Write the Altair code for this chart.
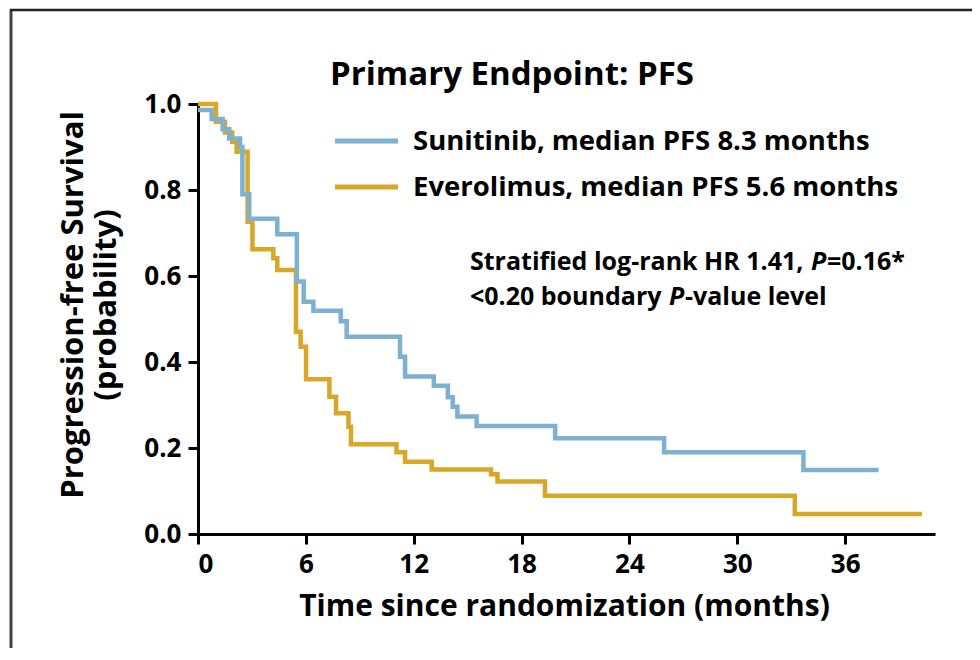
import altair as alt
import pandas as pd

# ---- data ----
sun_time = [0, 0.76, 1.37, 1.74, 2.34, 2.47, 2.85, 4.41, 5.5, 5.88, 6.42, 7.94, 8.27,
            11.24, 11.52, 13.12, 13.9, 14.17, 14.43, 15.5, 19.87, 25.93, 33.68, 37.86]
sun_surv = [0.986, 0.965, 0.941, 0.92, 0.90, 0.79, 0.733, 0.697, 0.587, 0.540, 0.519, 0.495, 0.459,
            0.412, 0.366, 0.345, 0.318, 0.296, 0.273, 0.251, 0.2225, 0.19, 0.149, 0.149]
eve_time = [0, 1.0, 1.5, 1.9, 2.15, 2.76, 3.03, 4.19, 4.41, 5.45, 5.71, 6.01, 7.31, 7.68,
            8.37, 8.51, 11.04, 11.52, 13.0, 16.3, 16.66, 19.3, 33.2, 40.27]
eve_surv = [1.0, 0.959, 0.934, 0.912, 0.889, 0.726, 0.662, 0.641, 0.614, 0.4705, 0.4356, 0.3597, 0.319, 0.2806,
            0.2496, 0.2085, 0.19, 0.168, 0.150, 0.139, 0.122, 0.089, 0.0465, 0.0465]

series_names = ["Sunitinib, median PFS 8.3 months", "Everolimus, median PFS 5.6 months"]
series_colors = ["#7DB0D1", "#D9A727"]
x_ticks = [0, 6, 12, 18, 24, 30, 36]
y_ticks = [0.0, 0.2, 0.4, 0.6, 0.8, 1.0]
title_text = "Primary Endpoint: PFS"
x_title = "Time since randomization (months)"
y_title = ["Progression-free Survival", "(probability)"]

FONT = "Open Sans"

sun_df = pd.DataFrame({"t": sun_time, "s": sun_surv})
eve_df = pd.DataFrame({"t": eve_time, "s": eve_surv})
one = pd.DataFrame({"k": [0]})

xscale = alt.Scale(domain=[0, 41], nice=False, zero=False)
yscale = alt.Scale(domain=[0, 1], nice=False)

xaxis = alt.Axis(values=x_ticks, title=x_title, titleFontSize=30, titlePadding=14,
                 titleFont=FONT, titleFontWeight="bold", titleColor="black", titleX=366)
yaxis = alt.Axis(values=y_ticks, format=".1f", title=None)

eve_line = alt.Chart(eve_df).mark_line(interpolate="step-after", strokeWidth=4.5,
                                       color=series_colors[1], strokeCap="butt").encode(
    x=alt.X("t:Q", scale=xscale, axis=xaxis),
    y=alt.Y("s:Q", scale=yscale, axis=yaxis),
)
sun_line = alt.Chart(sun_df).mark_line(interpolate="step-after", strokeWidth=4.5,
                                       color=series_colors[0], strokeCap="butt").encode(
    x=alt.X("t:Q", scale=xscale),
    y=alt.Y("s:Q", scale=yscale),
)

# frame around the figure
frame_left = alt.Chart(one).mark_rule(color="#444", strokeWidth=3).encode(
    x=alt.value(-187), y=alt.value(-94), y2=alt.value(560))
frame_top = alt.Chart(one).mark_rule(color="#222", strokeWidth=2.5).encode(
    x=alt.value(-188), x2=alt.value(800), y=alt.value(-94))

# legend
def leg_rule(y, color):
    return alt.Chart(one).mark_rule(color=color, strokeWidth=5).encode(
        x=alt.value(137), x2=alt.value(200), y=alt.value(y))

def txt(text, x, y, size, align="left", style="normal", angle=0):
    return alt.Chart(pd.DataFrame({"txt": [text]})).mark_text(
        font=FONT, fontSize=size, fontWeight="bold", fontStyle=style, align=align,
        baseline="middle", color="black", angle=angle).encode(
        text="txt:N", x=alt.value(x), y=alt.value(y))

layers = [
    frame_left, frame_top, eve_line, sun_line,
    leg_rule(37, series_colors[0]), leg_rule(83, series_colors[1]),
    txt(series_names[0], 215, 38, 27.5), txt(series_names[1], 215, 84, 27.5),
    txt("Stratified log-rank HR 1.41,", 272, 158, 25),
    txt("P", 613, 158, 25, style="italic"),
    txt("=0.16*", 629, 158, 25),
    txt("<0.20 boundary", 272, 193, 25),
    txt("P", 471, 193, 25, style="italic"),
    txt("-value level", 487, 193, 25),
    txt(title_text, 314, -29, 33, align="center"),
    txt(y_title[0], -124, 201, 31, align="center", angle=270),
    txt(y_title[1], -91, 201, 31, align="center", angle=270),
]

chart = alt.layer(*layers).properties(
    width=737, height=430,
    autosize=alt.AutoSizeParams(type="none"),
    padding={"left": 190, "top": 96, "right": 37, "bottom": 114},
    background="white",
).configure_view(strokeWidth=0).configure_axis(
    grid=False, domainColor="black", domainWidth=3, tickColor="black", tickWidth=3,
    tickSize=10, labelFont=FONT, labelFontSize=26, labelFontWeight="bold",
    labelColor="black", labelPadding=7,
)

chart.save("out.html", embed_options={"renderer": "svg", "actions": False})
